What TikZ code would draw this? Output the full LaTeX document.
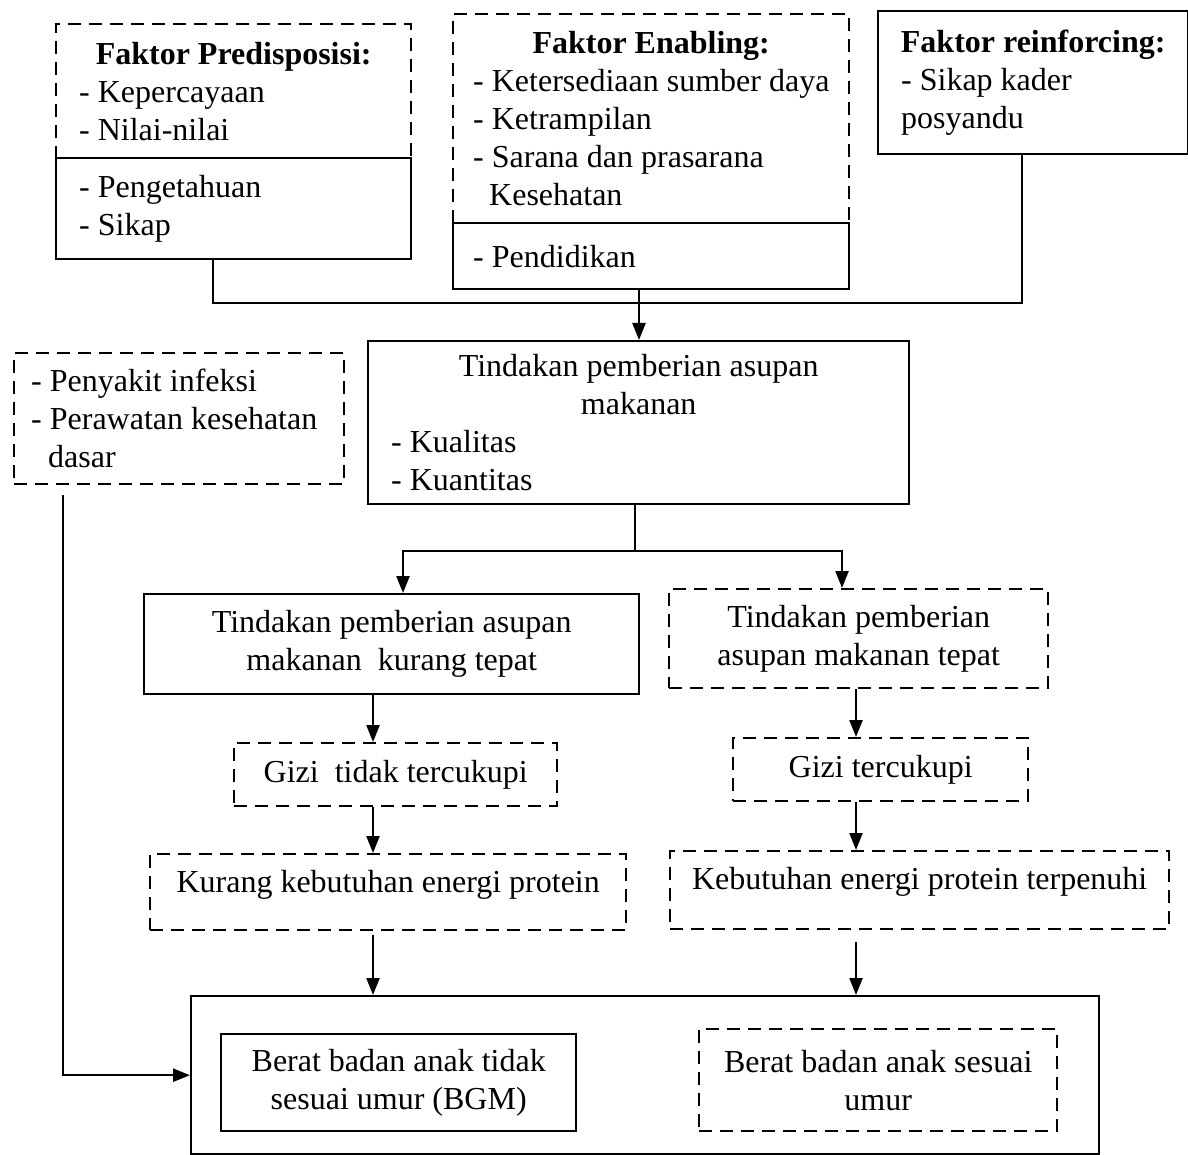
\documentclass[tikz,border=0pt]{standalone}
\usepackage{fontspec}
\setmainfont{Liberation Serif}
\usetikzlibrary{arrows.meta}
\begin{document}
\begin{tikzpicture}[x=1pt,y=-1pt,
  base/.style={line width=2.4pt, anchor=north west, inner sep=0pt, font=\fontsize{32}{38}\selectfont},
  solidbox/.style={base, draw},
  dashbox/.style={base, draw, dash pattern=on 13pt off 8pt},
  ln/.style={line width=2.4pt},
  arr/.style={ln, -{Triangle[length=17pt,width=13pt]}}]
\useasboundingbox (0,0) rectangle (1188,1155);

% Predisposisi
\node[dashbox, minimum width=355pt, minimum height=134pt, text width=309pt, align=flush left] (P1) at (55,23)
  {\makebox[309pt]{\textbf{Faktor Predisposisi:}}\\- Kepercayaan\\- Nilai-nilai};
\node[solidbox, minimum width=355pt, minimum height=101pt, text width=309pt, align=flush left] (P2) at (55,157)
  {- Pengetahuan\\- Sikap};

% Enabling
\node[dashbox, minimum width=396pt, minimum height=209pt, text width=356pt, align=flush left] (E1) at (452,13)
  {\makebox[356pt]{\textbf{Faktor Enabling:}}\\\mbox{- Ketersediaan sumber daya}\\- Ketrampilan\\- Sarana dan prasarana\\\hspace*{16pt}Kesehatan};
\node[solidbox, minimum width=396pt, minimum height=66pt, text width=356pt, align=flush left] (E2) at (452,222)
  {- Pendidikan};

% Reinforcing
\node[solidbox, minimum width=310pt, minimum height=143pt, text width=264pt, align=flush left] (R) at (877,10)
  {\makebox[264pt]{\textbf{Faktor reinforcing:}}\\- Sikap kader\\posyandu};

% Infeksi
\node[dashbox, minimum width=330pt, minimum height=131pt, text width=296pt, align=flush left] (I) at (13,352)
  {- Penyakit infeksi\\\mbox{- Perawatan kesehatan}\\\hspace*{17pt}dasar};

% Tindakan
\node[solidbox, minimum width=541pt, minimum height=163pt, text width=495pt, align=flush left] (T) at (367,340)
  {\makebox[495pt]{Tindakan pemberian asupan}\\\makebox[495pt]{makanan}\\- Kualitas\\- Kuantitas};

% Branches
\node[solidbox, minimum width=495pt, minimum height=100pt, align=center] (KT) at (143,593)
  {Tindakan pemberian asupan\\makanan~ kurang tepat};
\node[dashbox, minimum width=379pt, minimum height=99pt, align=center] (TP) at (668,588)
  {Tindakan pemberian\\asupan makanan tepat};

\node[dashbox, minimum width=323pt, minimum height=63pt] (GT) at (233,742) {Gizi~ tidak tercukupi};
\node[dashbox, minimum width=295pt, minimum height=63pt] (GC) at (732,737) {Gizi tercukupi};

\node[dashbox, minimum width=476pt, minimum height=76pt, text depth=22pt] (KK) at (149,853) {Kurang kebutuhan energi protein};
\node[dashbox, minimum width=499pt, minimum height=78pt, text depth=24pt] (KP) at (669,850) {Kebutuhan energi protein terpenuhi};

% Outcome
\node[solidbox, minimum width=908pt, minimum height=158pt] (B) at (190,995) {};
\node[solidbox, minimum width=355pt, minimum height=97pt, align=center] (BL) at (220,1033)
  {Berat badan anak tidak\\sesuai umur (BGM)};
\node[dashbox, minimum width=358pt, minimum height=102pt, align=center] (BR) at (698,1028)
  {Berat badan anak sesuai\\umur};

% Connectors
\coordinate (j) at (639,303);
\draw[ln] (213,0 |- P2.south) |- (j) -| (1022,0 |- R.south);
\draw[arr] (639,0 |- E2.south) -- (639,0 |- T.north);

\coordinate (s) at (635,551);
\draw[ln] (635,0 |- T.south) -- (s);
\draw[arr] (s) -| (403,0 |- KT.north);
\draw[arr] (s) -| (842,0 |- TP.north);

\draw[arr] (373,0 |- KT.south) -- (373,0 |- GT.north);
\draw[arr] (373,0 |- GT.south) -- (373,0 |- KK.north);
\draw[arr, shorten <=4pt] (373,0 |- KK.south) -- (373,0 |- B.north);

\draw[arr] (856,0 |- TP.south) -- (856,0 |- GC.north);
\draw[arr] (856,0 |- GC.south) -- (856,0 |- KP.north);
\draw[arr, shorten <=12pt] (856,0 |- KP.south) -- (856,0 |- B.north);

\draw[arr, shorten <=10pt] (63,0 |- I.south) |- (B.west);
\end{tikzpicture}
\end{document}
